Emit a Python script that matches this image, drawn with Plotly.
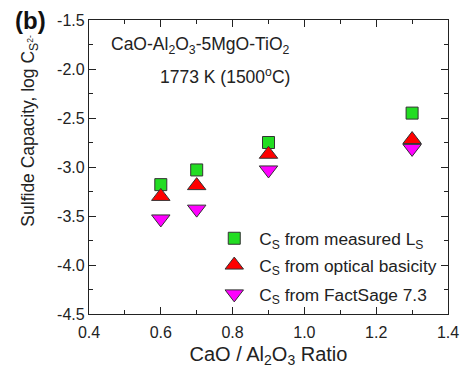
import plotly.graph_objects as go

ratio = [0.6, 0.7, 0.9, 1.3]
cs_measured = [-3.18, -3.03, -2.75, -2.45]
cs_optical = [-3.30, -3.19, -2.87, -2.72]
cs_factsage = [-3.53, -3.43, -3.03, -2.81]

FONT = "Liberation Sans, Arial, sans-serif"

fig = go.Figure()
fig.add_trace(go.Scatter(
    x=ratio, y=cs_measured, mode="markers", legend="legend",
    name="C<sub>S</sub> from measured L<sub>S</sub>",
    marker=dict(symbol="square", size=12, color="#22dd22",
                line=dict(color="#333333", width=1))))
fig.add_trace(go.Scatter(
    x=ratio, y=cs_optical, mode="markers", legend="legend2",
    name="C<sub>S</sub> from optical basicity",
    marker=dict(symbol="triangle-up", size=16, color="#ff0000",
                line=dict(color="#333333", width=1))))
fig.add_trace(go.Scatter(
    x=ratio, y=cs_factsage, mode="markers", legend="legend3",
    name="C<sub>S</sub> from FactSage 7.3",
    marker=dict(symbol="triangle-down", size=16, color="#ff00ff",
                line=dict(color="#333333", width=1))))

axis_common = dict(
    showline=True, linecolor="#222222", linewidth=1.2, mirror="ticks",
    ticks="inside", ticklen=7, tickcolor="#222222", tickwidth=1,
    showgrid=False, zeroline=False,
    tickfont=dict(family=FONT, size=16, color="#222222"),
)


def leg(ypx):
    return dict(x=0.335, y=1 - (ypx - 19) / 296, xanchor="left", yanchor="middle",
                bgcolor="rgba(0,0,0,0)", font=dict(family=FONT, size=17.3),
                itemwidth=40)


fig.update_layout(
    width=471, height=373,
    margin=dict(l=89, r=14, t=19, b=58),
    paper_bgcolor="white", plot_bgcolor="white",
    font=dict(family=FONT, size=16, color="#222222"),
    showlegend=True,
    legend=leg(239), legend2=leg(266), legend3=leg(295),
    xaxis=dict(range=[0.4, 1.4], tickvals=[0.4, 0.6, 0.8, 1.0, 1.2, 1.4],
               ticktext=["0.4", "0.6", "0.8", "1.0", "1.2", "1.4"],
               minor=dict(ticks="inside", ticklen=4, dtick=0.1, tickcolor="#222222"),
               ticklabelstandoff=4,
               title=dict(text="CaO / Al<sub>2</sub>O<sub>3</sub> Ratio",
                          font=dict(family=FONT, size=20), standoff=6),
               **axis_common),
    yaxis=dict(range=[-4.5, -1.5], tickvals=[-4.5, -4.0, -3.5, -3.0, -2.5, -2.0, -1.5],
               ticktext=["-4.5", "-4.0", "-3.5", "-3.0", "-2.5", "-2.0", "-1.5"],
               minor=dict(ticks="inside", ticklen=4, dtick=0.25, tickcolor="#222222"),
               **axis_common),
)

fig.add_annotation(xref="paper", yref="paper", x=-0.166, y=0.625,
                   text="Sulfide Capacity, log C<sub>S<sup>2-</sup></sub>",
                   textangle=-90, showarrow=False, xanchor="center", yanchor="middle",
                   font=dict(family=FONT, size=17.5))
fig.add_annotation(xref="paper", yref="paper", x=-0.163, y=1.0,
                   text="<b>(b)</b>", showarrow=False, xanchor="center", yanchor="middle",
                   font=dict(family=FONT, size=24, color="#111111"))
fig.add_annotation(xref="paper", yref="paper", x=0.565, y=0.912,
                   text="CaO-Al<sub>2</sub>O<sub>3</sub>-5MgO-TiO<sub>2</sub>",
                   showarrow=False, xanchor="right", yanchor="middle",
                   font=dict(family=FONT, size=17.5))
fig.add_annotation(xref="paper", yref="paper", x=0.565, y=0.81,
                   text="1773 K (1500<sup>o</sup>C)",
                   showarrow=False, xanchor="right", yanchor="middle",
                   font=dict(family=FONT, size=17.5))

fig.write_html("out.html")
